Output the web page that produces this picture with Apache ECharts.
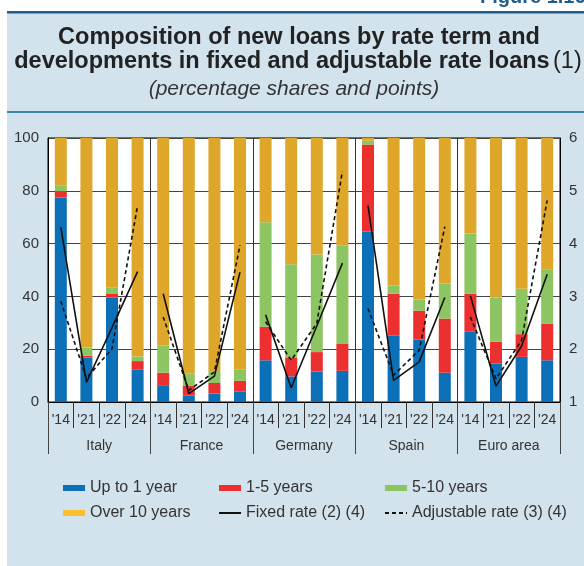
<html lang="en">
<head>
    <meta charset="UTF-8">
    <title>Composition of new loans</title>
    <style>
        html, body { margin: 0; padding: 0; background: #fff; }
        #echart { width: 584px; height: 566px; }
    </style>
</head>
<body>
    <div id="echart"></div>
    <script src="https://cdn.jsdelivr.net/npm/echarts@6/dist/echarts.min.js"></script>
    <script>
        // categories
        const years = ["'14", "'21", "'22", "'24"]
        const countries = ['Italy', 'France', 'Germany', 'Spain', 'Euro area']

        // percentage shares, 4 years per country (Italy, France, Germany, Spain, Euro area)
        const upTo1 = [77.4, 16.8, 39.5, 12.2, 6.1, 2.5, 3.2, 4.0, 15.8, 9.7, 11.5, 11.8, 64.6, 25.1, 23.7, 11.1, 26.6, 14.6, 17.1, 15.8]
        const oneToFive = [2.5, 0.7, 1.4, 3.3, 5.0, 3.6, 4.0, 4.0, 12.7, 7.0, 7.4, 10.2, 32.9, 15.9, 10.9, 20.5, 14.4, 8.2, 8.6, 13.9]
        const fiveToTen = [2.0, 3.1, 2.5, 1.8, 10.2, 4.6, 4.2, 4.4, 39.6, 35.5, 37.0, 37.4, 1.5, 3.2, 4.3, 13.3, 22.9, 16.8, 17.2, 20.6]
        const over10 = [18.1, 79.4, 56.6, 82.7, 78.7, 89.3, 88.6, 87.6, 31.9, 47.8, 44.1, 40.6, 1.0, 55.8, 61.1, 55.1, 36.1, 60.4, 57.1, 49.7]

        // rates (right axis, points)
        const fixedRate = [4.31, 1.37, 2.41, 3.47, 3.05, 1.16, 1.49, 3.46, 2.65, 1.27, 2.44, 3.63, 4.72, 1.41, 1.76, 2.98, 3.01, 1.30, 2.06, 3.42]
        const adjustableRate = [2.91, 1.45, 2.01, 4.72, 2.61, 1.22, 1.57, 3.97, 2.52, 1.79, 2.49, 5.37, 2.77, 1.51, 1.98, 4.32, 2.61, 1.44, 2.17, 4.82]

        const FONT = 'Liberation Sans, Arial, sans-serif'
        const yearLabels = []
        countries.forEach(() => years.forEach(y => yearLabels.push(y)))

        const gridBox = { left: 48, right: 24, top: 138, bottom: 164 }

        const barSeries = [
            ['Up to 1 year', upTo1, '#0b70b8'],
            ['1-5 years', oneToFive, '#ec2f2f'],
            ['5-10 years', fiveToTen, '#8cc562'],
            ['Over 10 years', over10, '#dfa72a']
        ].map(([name, data, color]) => ({
            name, type: 'bar', stack: 'share', data, barWidth: 12,
            itemStyle: { color }, xAxisIndex: 0, yAxisIndex: 0
        }))

        // one line per country so the segments do not join across panels
        function lineFor(name, values, dashed) {
            return countries.map((c, ci) => ({
                name, type: 'line', xAxisIndex: 0, yAxisIndex: 1,
                symbol: 'none', z: 5,
                data: values.map((v, i) => (Math.floor(i / 4) === ci ? v : '-')),
                lineStyle: { color: '#111', width: 1.6, type: dashed ? [4, 3] : 'solid' },
                itemStyle: { color: '#111' }
            }))
        }

        const legendBase = {
            orient: 'vertical', top: 480, padding: 0, itemWidth: 22, itemHeight: 6, itemGap: 9,
            selectedMode: false,
            textStyle: { fontSize: 16, color: '#333', fontFamily: FONT }
        }

        const echart = echarts.init(document.getElementById('echart'))
        echart.setOption({
            backgroundColor: '#d2e3ed',
            animation: false,
            textStyle: { fontFamily: FONT },
            graphic: [
                { type: 'rect', shape: { x: 0, y: 0, width: 7, height: 566 }, style: { fill: '#fff' }, silent: true },
                { type: 'rect', shape: { x: 0, y: 0, width: 584, height: 12 }, style: { fill: '#fff' }, silent: true },
                { type: 'rect', shape: { x: 7, y: 11, width: 577, height: 2.5 }, style: { fill: '#1d5d8b' } },
                { type: 'rect', shape: { x: 7, y: 111, width: 577, height: 2 }, style: { fill: '#3d87a9' } },
                { type: 'text', x: 480, y: 7, style: { text: 'Figure 1.16', fontSize: 20, fontWeight: 'bold', fill: '#1f5c8c', fontFamily: FONT, verticalAlign: 'bottom' } },
                { type: 'text', x: 299, y: 38, style: { text: 'Composition of new loans by rate term and', fontSize: 23.5, fontWeight: 'bold', fill: '#222', fontFamily: FONT, align: 'center', verticalAlign: 'middle' } },
                {
                    type: 'text', x: 298, y: 62, style: {
                        text: '{b|developments in fixed and adjustable rate loans} {n|(1)}',
                        align: 'center', verticalAlign: 'middle', fontFamily: FONT,
                        rich: {
                            b: { fontSize: 23.5, fontWeight: 'bold', fill: '#222', fontFamily: FONT },
                            n: { fontSize: 23.5, fill: '#222', fontFamily: FONT }
                        }
                    }
                },
                { type: 'text', x: 294, y: 89, style: { text: '(percentage shares and points)', fontSize: 21, fontStyle: 'italic', fill: '#333', fontFamily: FONT, align: 'center', verticalAlign: 'middle' } }
            ],
            grid: [
                Object.assign({ show: true, backgroundColor: '#fff', borderColor: '#000', borderWidth: 1 }, gridBox),
                Object.assign({ show: false }, gridBox)
            ],
            xAxis: [
                {
                    type: 'category', gridIndex: 0, data: yearLabels, position: 'bottom',
                    axisLine: { lineStyle: { color: '#000', width: 1 } },
                    axisTick: { show: true, interval: 0, length: 26, lineStyle: { color: '#333' } },
                    axisLabel: { interval: 0, fontSize: 14, color: '#333', margin: 11 }
                },
                {
                    type: 'category', gridIndex: 1, data: countries, position: 'bottom',
                    axisLine: { show: false },
                    axisTick: { show: true, interval: 0, length: 52, lineStyle: { color: '#444' } },
                    axisLabel: { interval: 0, fontSize: 14, color: '#333', margin: 37 },
                    splitLine: { show: true, interval: 0, lineStyle: { color: '#333', width: 1 } }
                }
            ],
            yAxis: [
                {
                    type: 'value', gridIndex: 0, min: 0, max: 100, interval: 20,
                    axisLine: { show: true, lineStyle: { color: '#000' } },
                    axisTick: { show: false },
                    axisLabel: { fontSize: 15, color: '#333', margin: 9 },
                    splitLine: { lineStyle: { color: '#444', width: 1 } }
                },
                {
                    type: 'value', gridIndex: 0, position: 'right', min: 1, max: 6, interval: 1,
                    axisLine: { show: true, lineStyle: { color: '#000' } },
                    axisTick: { show: false },
                    axisLabel: { fontSize: 15, color: '#333', margin: 9 },
                    splitLine: { show: false }
                },
                { type: 'value', gridIndex: 1, show: false, min: 0, max: 100 }
            ],
            legend: [
                Object.assign({ left: 63, data: [{ name: 'Up to 1 year', icon: 'rect' }, { name: 'Over 10 years', icon: 'rect', itemStyle: { color: '#fbbe2c' } }] }, legendBase),
                Object.assign({ left: 218, data: [{ name: '1-5 years', icon: 'rect' }, { name: 'Fixed rate (2) (4)', itemStyle: { opacity: 0 } }] }, legendBase),
                Object.assign({ left: 384, data: [{ name: '5-10 years', icon: 'rect' }, { name: 'Adjustable rate (3) (4)', itemStyle: { opacity: 0 } }] }, legendBase)
            ],
            series: barSeries
                .concat(lineFor('Fixed rate (2) (4)', fixedRate, false))
                .concat(lineFor('Adjustable rate (3) (4)', adjustableRate, true))
        })
    </script>
</body>
</html>
